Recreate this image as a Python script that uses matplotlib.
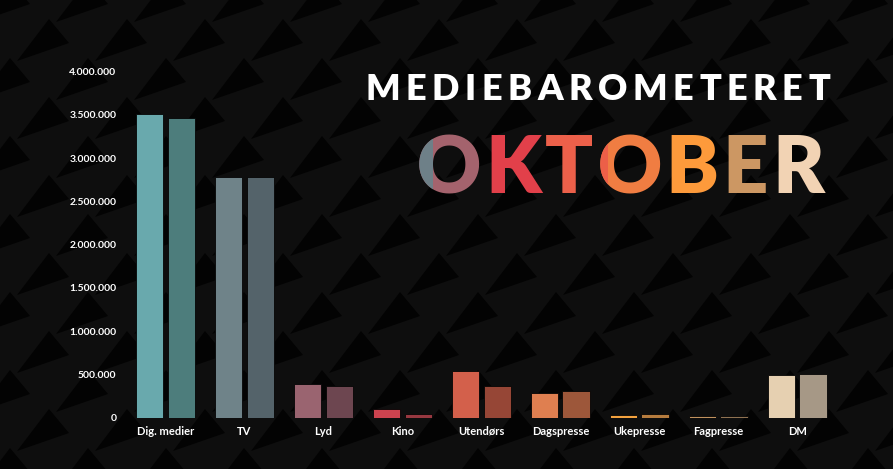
import matplotlib
matplotlib.use("Agg")
import matplotlib.pyplot as plt
from matplotlib.patches import Polygon, Rectangle
from matplotlib.ticker import FuncFormatter
import numpy as np

categories = ["Dig. medier", "TV", "Lyd", "Kino", "Utendørs", "Dagspresse",
              "Ukepresse", "Fagpresse", "DM"]
series_a = [3509000, 2784000, 387000, 102000, 541000, 287000, 29000, 23000, 488000]
series_b = [3459000, 2784000, 364000, 40000, 364000, 306000, 37000, 23000, 499000]
yticks = [0, 500000, 1000000, 1500000, 2000000, 2500000, 3000000, 3500000, 4000000]
title_top = "MEDIEBAROMETERET"
title_month = "OKTOBER"

colors_a = ["#69a9ad", "#6f8389", "#9a6470", "#cc434f", "#d3604b", "#df7f50",
            "#f3a23f", "#c1925f", "#e6d0b1"]
colors_b = ["#4d7d7c", "#54636a", "#6d4650", "#973840", "#964636", "#9d573a",
            "#b67c3e", "#8f7252", "#a69886"]

W, H = 893, 469
fig = plt.figure(figsize=(W / 100, H / 100), dpi=100)
fig.patch.set_facecolor("#0e0e0e")

# background pattern (decorative)
bg = fig.add_axes([0, 0, 1, 1])
bg.set_xlim(0, W)
bg.set_ylim(H, 0)
bg.axis("off")
bg.set_facecolor("#0e0e0e")
tri = np.array([[0, 0], [20, 24], [-32, 42]])
for j in range(-2, 16):
    for i in range(-3, 14):
        ox = i * 78 + (j % 2) * 39 + 10
        oy = j * 39 - 20
        bg.add_patch(Polygon(tri + [ox, oy], closed=True, facecolor="#030303",
                             edgecolor="none", zorder=0))

ax = fig.add_axes([126 / W, (H - 417.5) / H, 710.7 / W, (417.5 - 71.7) / H])
ax.set_facecolor("none")
x = np.arange(len(categories))
w = 0.345
ax.bar(x - 0.2, series_a, width=w, color=colors_a, edgecolor="#050505", linewidth=0.6, zorder=3)
ax.bar(x + 0.2, series_b, width=w, color=colors_b, edgecolor="#050505", linewidth=0.6, zorder=3)
ax.set_xlim(-0.5, 8.5)
ax.set_ylim(0, 4000000)
ax.set_yticks(yticks)
ax.yaxis.set_major_formatter(FuncFormatter(lambda v, p: f"{int(v):,}".replace(",", ".")))
ax.set_xticks(x)
ax.set_xticklabels(categories)
for s in ax.spines.values():
    s.set_visible(False)
ax.tick_params(axis="both", length=0, colors="white")
ax.tick_params(axis="y", pad=7, labelsize=7.5)
ax.tick_params(axis="x", pad=6, labelsize=8)
for lab in ax.get_xticklabels() + ax.get_yticklabels():
    lab.set_fontfamily(["Lato", "DejaVu Sans"])
    lab.set_fontweight("bold")
    lab.set_color("white")

renderer = fig.canvas.get_renderer()


def place_letters(text, x0, x1, ybase, size, colors, weight, min_gap):
    while True:
        arts, widths = [], []
        for ch in text:
            t = fig.text(0, 0, ch, fontsize=size, fontweight=weight,
                         family=["Lato", "DejaVu Sans"], ha="left", va="baseline")
            widths.append(t.get_window_extent(renderer).width)
            arts.append(t)
        gap = (x1 - x0 - sum(widths)) / (len(text) - 1)
        if gap >= min_gap:
            break
        for t in arts:
            t.remove()
        size -= 1
    cur = x0
    for t, wd, c in zip(arts, widths, colors):
        t.set_position((cur / W, (H - ybase) / H))
        t.set_color(c)
        cur += wd + gap
    return arts, size


place_letters(title_top, 365, 830, 100.5, 26, ["white"] * len(title_top), "heavy", 3)

month_colors = ["#a4636d", "#e2404a", "#ec604a", "#f07d42", "#fd9a3b", "#cc9763", "#f2d3b4"]
arts, msize = place_letters(title_month, 417, 824, 193, 66, month_colors, "heavy", 3)

# two-tone O letters
for idx, frac, c in [(0, 0.25, "#6e8088"), (3, 0.16, "#ec5f48")]:
    t = arts[idx]
    px, py = t.get_position()
    bb = t.get_window_extent(renderer)
    t2 = fig.text(px, py, title_month[idx], fontsize=msize, fontweight="heavy",
                  family=["Lato", "DejaVu Sans"], ha="left", va="baseline", color=c)
    rect = Rectangle((bb.x0 - 5, bb.y0 - 5), bb.width * frac + 5, bb.height + 10,
                     transform=None)
    t2.set_clip_path(rect)

fig.savefig("out.png", dpi=100, facecolor=fig.get_facecolor())
